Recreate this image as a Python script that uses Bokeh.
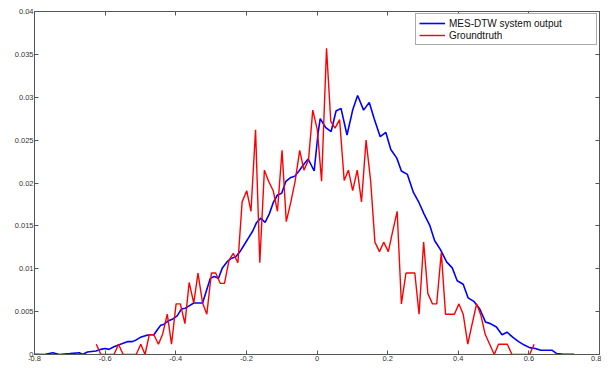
from bokeh.plotting import figure
from bokeh.models import Range1d, LinearAxis, FixedTicker, Legend, LegendItem, CustomJSTickFormatter
from bokeh.embed import file_html
from bokeh.resources import INLINE

# ---- data ----
series_names = ["MES-DTW system output", "Groundtruth"]

blue_x = [-0.800, -0.772, -0.748, -0.730, -0.700, -0.673, -0.664, -0.650, -0.626, -0.612,
          -0.600, -0.589, -0.575, -0.562, -0.549, -0.537, -0.523, -0.512, -0.500, -0.486,
          -0.474, -0.462, -0.450, -0.443, -0.434, -0.422, -0.410, -0.396, -0.384, -0.373,
          -0.361, -0.349, -0.337, -0.324, -0.302, -0.291, -0.279, -0.268, -0.255, -0.243,
          -0.230, -0.218, -0.206, -0.194, -0.182, -0.171, -0.159, -0.147, -0.135, -0.124,
          -0.112, -0.100, -0.088, -0.076, -0.063, -0.051, -0.039, -0.025, -0.008, 0.003,
          0.009, 0.024, 0.040, 0.054, 0.068, 0.085, 0.101, 0.115, 0.132, 0.148,
          0.162, 0.179, 0.195, 0.209, 0.226, 0.239, 0.256, 0.273, 0.289, 0.303,
          0.319, 0.333, 0.350, 0.367, 0.383, 0.397, 0.414, 0.428, 0.444, 0.461,
          0.477, 0.491, 0.508, 0.524, 0.538, 0.555, 0.571, 0.587, 0.602, 0.618,
          0.634, 0.649, 0.665, 0.679, 0.698, 0.728]
blue_y = [0.00003, 0.0, 0.0002, 0.0, 0.0001, 0.0002, 0.0, 0.0003, 0.0004, 0.0006,
          0.0007, 0.0006, 0.0009, 0.0011, 0.0013, 0.0015, 0.0015, 0.0017, 0.0020, 0.0022,
          0.0023, 0.0023, 0.0030, 0.0034, 0.0035, 0.0039, 0.0041, 0.0045, 0.0053, 0.0054,
          0.0057, 0.0060, 0.0060, 0.0060, 0.0089, 0.0091, 0.0089, 0.0101, 0.0108, 0.0112,
          0.0114, 0.0120, 0.0128, 0.0136, 0.0144, 0.0154, 0.0159, 0.0154, 0.0164, 0.0177,
          0.0186, 0.0188, 0.0202, 0.0206, 0.0208, 0.0214, 0.0221, 0.0228, 0.0214, 0.0258,
          0.0275, 0.0265, 0.0260, 0.0284, 0.0287, 0.0256, 0.0285, 0.0302, 0.0285, 0.0294,
          0.0275, 0.0254, 0.0259, 0.0239, 0.0229, 0.0214, 0.0210, 0.0189, 0.0177, 0.0164,
          0.0151, 0.0133, 0.0122, 0.0108, 0.0101, 0.0086, 0.0082, 0.0066, 0.0062, 0.0053,
          0.0038, 0.0036, 0.0032, 0.0023, 0.0026, 0.0020, 0.0015, 0.0011, 0.0008, 0.0007,
          0.0005, 0.0005, 0.0005, 0.0001, 0.00003, 0.00003]

red_x = [-0.625, -0.612, -0.600, -0.587, -0.575, -0.562, -0.549, -0.537, -0.524, -0.512,
         -0.499, -0.487, -0.475, -0.462, -0.449, -0.437, -0.424, -0.412, -0.399, -0.387,
         -0.374, -0.362, -0.349, -0.337, -0.324, -0.312, -0.299, -0.287, -0.274, -0.262,
         -0.249, -0.237, -0.224, -0.212, -0.199, -0.187, -0.174, -0.162, -0.149, -0.137,
         -0.124, -0.112, -0.099, -0.087, -0.074, -0.062, -0.049, -0.037, -0.024, -0.012,
         0.001, 0.013, 0.027, 0.039, 0.051, 0.064, 0.077, 0.089, 0.101, 0.114,
         0.126, 0.139, 0.152, 0.164, 0.177, 0.189, 0.202, 0.214, 0.227, 0.239,
         0.252, 0.264, 0.277, 0.289, 0.302, 0.314, 0.327, 0.339, 0.352, 0.364,
         0.377, 0.389, 0.402, 0.414, 0.427, 0.439, 0.452, 0.464, 0.476, 0.489,
         0.502, 0.514, 0.527, 0.539, 0.552, 0.564, 0.577, 0.589, 0.602, 0.615]
red_y = [0.0012, 0.0, 0.0, 0.0, 0.0, 0.0012, 0.0, 0.0, 0.0, 0.0,
         0.0012, 0.0, 0.0023, 0.0023, 0.0012, 0.0024, 0.0047, 0.0012, 0.0059, 0.0059,
         0.0036, 0.0084, 0.0060, 0.0095, 0.0060, 0.0047, 0.0095, 0.0095, 0.0083, 0.0083,
         0.0110, 0.0118, 0.0107, 0.0178, 0.0191, 0.0167, 0.0262, 0.0107, 0.0215, 0.0202,
         0.0191, 0.0167, 0.0238, 0.0155, 0.0178, 0.0202, 0.0238, 0.0215, 0.0227, 0.0285,
         0.0262, 0.0202, 0.0357, 0.0272, 0.0264, 0.0274, 0.0203, 0.0215, 0.0191, 0.0215,
         0.0178, 0.0250, 0.0202, 0.0131, 0.0120, 0.0131, 0.0120, 0.0143, 0.0167, 0.0059,
         0.0095, 0.0095, 0.0095, 0.0047, 0.0131, 0.0071, 0.0059, 0.0059, 0.0119, 0.0047,
         0.0047, 0.0047, 0.0059, 0.0047, 0.0012, 0.0035, 0.0059, 0.0046, 0.0024, 0.0012,
         0.0, 0.0012, 0.0012, 0.0012, 0.0, 0.0, 0.0, 0.0, 0.0, 0.0012]

x_ticks = [-0.8, -0.6, -0.4, -0.2, 0.0, 0.2, 0.4, 0.6, 0.8]
x_tick_labels = ["-0.8", "-0.6", "-0.4", "-0.2", "0", "0.2", "0.4", "0.6", "0.8"]
y_ticks = [0.0, 0.005, 0.01, 0.015, 0.02, 0.025, 0.03, 0.035, 0.04]
y_tick_labels = ["0", "0.005", "0.01", "0.015", "0.02", "0.025", "0.03", "0.035", "0.04"]

# ---- style ----
FONT = "Liberation Sans"
AXIS_COLOR = "#555555"
LABEL_COLOR = "#333333"

p = figure(width=601, height=363, output_backend="svg", toolbar_location=None,
           x_range=Range1d(-0.8, 0.8), y_range=Range1d(0, 0.04),
           min_border_left=34, min_border_right=2, min_border_top=11, min_border_bottom=9)
p.grid.visible = False
p.outline_line_color = AXIS_COLOR
p.background_fill_color = "white"
p.border_fill_color = "white"


def style_axis(ax, ticks, labels, show_labels):
    ax.ticker = FixedTicker(ticks=ticks)
    ax.axis_line_color = AXIS_COLOR
    ax.major_tick_line_color = AXIS_COLOR
    ax.minor_tick_line_color = None
    ax.major_tick_in = 4
    ax.major_tick_out = 0
    ax.major_label_text_font = FONT
    ax.major_label_text_color = LABEL_COLOR
    if show_labels:
        ax.major_label_overrides = {t: l for t, l in zip(ticks, labels)}
        ax.major_label_standoff = 1
        ax.major_label_text_font_size = "7.5px"
    else:
        ax.formatter = CustomJSTickFormatter(code="return '';")
        ax.major_label_standoff = 0
        ax.major_label_text_font_size = "1px"


style_axis(p.xaxis[0], x_ticks, x_tick_labels, True)
style_axis(p.yaxis[0], y_ticks, y_tick_labels, True)

top_axis = LinearAxis()
style_axis(top_axis, x_ticks, x_tick_labels, False)
p.add_layout(top_axis, "above")
right_axis = LinearAxis()
style_axis(right_axis, y_ticks, y_tick_labels, False)
p.add_layout(right_axis, "right")

r_blue = p.line(blue_x, blue_y, line_color="#0000ff", line_width=1.6)
r_red = p.line(red_x, red_y, line_color="#ff0000", line_width=1.4)

legend = Legend(items=[LegendItem(label=series_names[0], renderers=[r_blue]),
                       LegendItem(label=series_names[1], renderers=[r_red])],
                location="top_right")
legend.margin = 2
legend.padding = 3
legend.spacing = 0
legend.glyph_width = 26
legend.glyph_height = 12
legend.label_height = 12
legend.label_width = 144
legend.label_standoff = 4
legend.label_text_font = FONT
legend.label_text_font_size = "10px"
legend.label_text_color = "#111111"
legend.border_line_color = AXIS_COLOR
legend.border_line_width = 1
legend.background_fill_color = "white"
legend.background_fill_alpha = 1.0
p.add_layout(legend, "center")

open("out.html", "w").write(file_html(p, INLINE))
